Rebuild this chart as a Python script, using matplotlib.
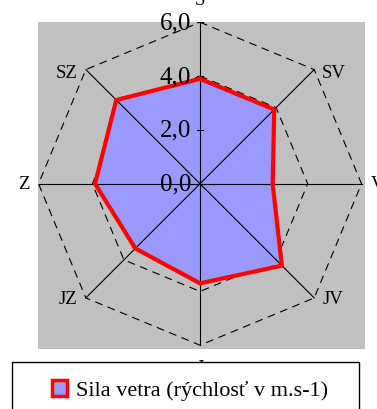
import numpy as np
import matplotlib
matplotlib.use("Agg")
import matplotlib.pyplot as plt
from matplotlib.patches import Patch, Rectangle

# Wind directions clockwise from north and wind speed for each
directions = ["S", "SV", "V", "JV", "J", "JZ", "Z", "SZ"]
speeds = [3.9, 3.9, 2.7, 4.3, 3.7, 3.4, 3.9, 4.4]
ring_values = [0.0, 2.0, 4.0, 6.0]
ring_labels = ["0,0", "2,0", "4,0", "6,0"]
grid_rings = [4.0, 6.0]
series_name = "Sila vetra (rýchlosť v m.s-1)"

SERIF = ["Liberation Serif", "DejaVu Serif"]
W, H = 377, 410
fig = plt.figure(figsize=(W / 100, H / 100), dpi=100)
fig.patch.set_facecolor("white")

# Plot area (pixel box 38..365 x 23..350)
ax = fig.add_axes([38 / W, 1 - 350 / H, 327 / W, 327 / H])
ax.set_facecolor("#c0c0c0")
for s in ax.spines.values():
    s.set_visible(False)
ax.set_xticks([])
ax.set_yticks([])
ax.set_xlim(-6.02, 6.13)
ax.set_ylim(-6.14, 6.01)
ax.set_aspect("auto")

n = len(directions)
theta = np.arange(n) * 2 * np.pi / n
ux, uy = np.sin(theta), np.cos(theta)

# Dashed octagonal grid
for r in grid_rings:
    gx = np.append(r * ux, r * ux[0])
    gy = np.append(r * uy, r * uy[0])
    ax.plot(gx, gy, color="black", lw=0.8, ls=(0, (7, 5)), zorder=2)

# Spokes
rmax = ring_values[-1]
for x, y in zip(ux, uy):
    ax.plot([0, rmax * x], [0, rmax * y], color="black", lw=0.8, zorder=4)

# Data polygon
px = np.append(np.array(speeds) * ux, speeds[0] * ux[0])
py = np.append(np.array(speeds) * uy, speeds[0] * uy[0])
ax.fill(px, py, color="#9999ff", zorder=3, lw=0)
ax.plot(px, py, color="#ff0000", lw=3, zorder=5, solid_joinstyle="miter")

# Ticks and labels along the north spoke
for v, lab in zip(ring_values, ring_labels):
    ax.plot([-0.1, 0.1], [v, v], color="black", lw=0.8, zorder=4)
    ax.annotate(lab, (0, v), xytext=(-9, 0), textcoords="offset pixels",
                ha="right", va="center", fontsize=18, family=SERIF,
                zorder=6, annotation_clip=False)

# Direction labels outside the outer ring
offsets = {
    "S": (0, 14, "center", "bottom"),
    "SV": (8, -3, "left", "center"),
    "V": (9, 0, "left", "center"),
    "JV": (8, -1, "left", "center"),
    "J": (0, -14, "center", "top"),
    "JZ": (-8, -1, "right", "center"),
    "Z": (-9, 0, "right", "center"),
    "SZ": (-8, -3, "right", "center"),
}
for name, x, y in zip(directions, ux, uy):
    dx, dy, ha, va = offsets[name]
    ax.annotate(name, (rmax * x, rmax * y), xytext=(dx, dy),
                textcoords="offset pixels", ha=ha, va=va, fontsize=13.5,
                family=SERIF, annotation_clip=False, zorder=1)

# Legend box
box = Rectangle((12 / W, -0.05), 347 / W, 1 - 363 / H + 0.05,
                transform=fig.transFigure, facecolor="white",
                edgecolor="black", lw=1, zorder=10)
fig.patches.append(box)
handle = Patch(facecolor="#9999ff", edgecolor="#ff0000", lw=2.5)
leg = fig.legend([handle], [series_name], loc="center",
                 bbox_to_anchor=(190 / W, 1 - 391 / H), frameon=False,
                 prop={"family": SERIF, "size": 16}, handlelength=0.7,
                 handleheight=0.75, handletextpad=0.4)
leg.set_zorder(11)

fig.savefig("out.png", dpi=100)
